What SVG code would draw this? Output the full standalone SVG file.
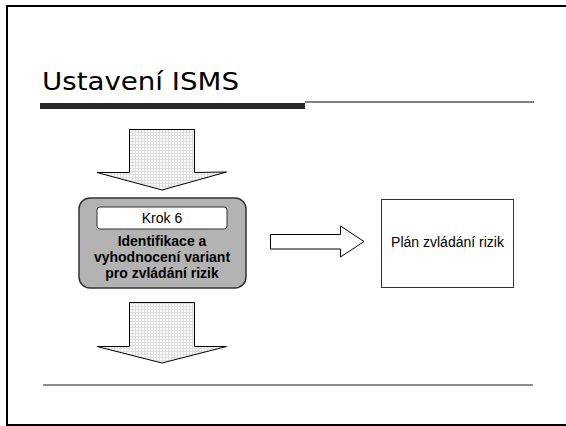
<svg xmlns="http://www.w3.org/2000/svg" width="566" height="426" viewBox="0 0 566 426">
<style>
.frame{fill:none;stroke:#000;stroke-width:2}
.blk{stroke:#000;stroke-width:1;stroke-linejoin:miter}
.txt{font-family:"Liberation Sans",Arial,sans-serif;fill:#000}
</style>
<defs>
<pattern id="dots" width="3" height="3" patternUnits="userSpaceOnUse">
<rect width="3" height="3" fill="#fafafa"/>
<rect x="0" y="0" width="1" height="3" fill="#dedede"/>
<rect x="0" y="0" width="3" height="1" fill="#dedede"/>
</pattern>
</defs>
<rect width="566" height="426" fill="#fff"/>
<path class="frame" d="M568,6 H7 V425 H568"/>
<text x="42" y="90" font-family="'DejaVu Sans',Verdana,sans-serif" font-size="25" textLength="197" lengthAdjust="spacingAndGlyphs" fill="#000">Ustavení ISMS</text>
<rect x="40" y="103" width="265" height="6" fill="#2a2a2a"/>
<line x1="305" y1="102" x2="534" y2="102" stroke="#808080" stroke-width="2"/>
<line x1="43" y1="385" x2="533" y2="385" stroke="#666" stroke-width="1.5"/>
<g id="connectors">
<polygon id="arrow-top" class="blk" fill="url(#dots)" points="129.5,129.5 194.5,129.5 194.5,172.5 226.5,172 162,190 97,172.5 129.5,172.5"/>
<polygon id="arrow-bottom" class="blk" fill="url(#dots)" points="129.5,302.5 194.5,302.5 194.5,346.5 226.5,346.5 162,363 97,346.5 129.5,346.5"/>
<polygon id="arrow-right" class="blk" fill="#fff" points="270.5,234.5 340.5,234.5 340.5,226 364,241.5 340.5,257 340.5,249 270.5,249"/>
</g>
<g id="step6">
<rect x="79" y="198" width="167" height="90" rx="11" fill="#b3b3b3" stroke="#333" stroke-width="1.5"/>
<rect x="97" y="207" width="130" height="22" rx="3" fill="#fff" stroke="#333" stroke-width="1"/>
<text class="txt" x="162" y="223" font-size="14" text-anchor="middle">Krok 6</text>
<text class="txt" x="162" y="246" font-size="14" font-weight="bold" text-anchor="middle">Identifikace a</text>
<text class="txt" x="162" y="262" font-size="14" font-weight="bold" text-anchor="middle">vyhodnocení variant</text>
<text class="txt" x="162" y="278" font-size="14" font-weight="bold" text-anchor="middle">pro zvládání rizik</text>
</g>
<g id="plan">
<rect x="381.5" y="199.5" width="132" height="88" fill="#fff" stroke="#333" stroke-width="1"/>
<text class="txt" x="447.5" y="247" font-size="14" text-anchor="middle">Plán zvládání rizik</text>
</g>
</svg>
